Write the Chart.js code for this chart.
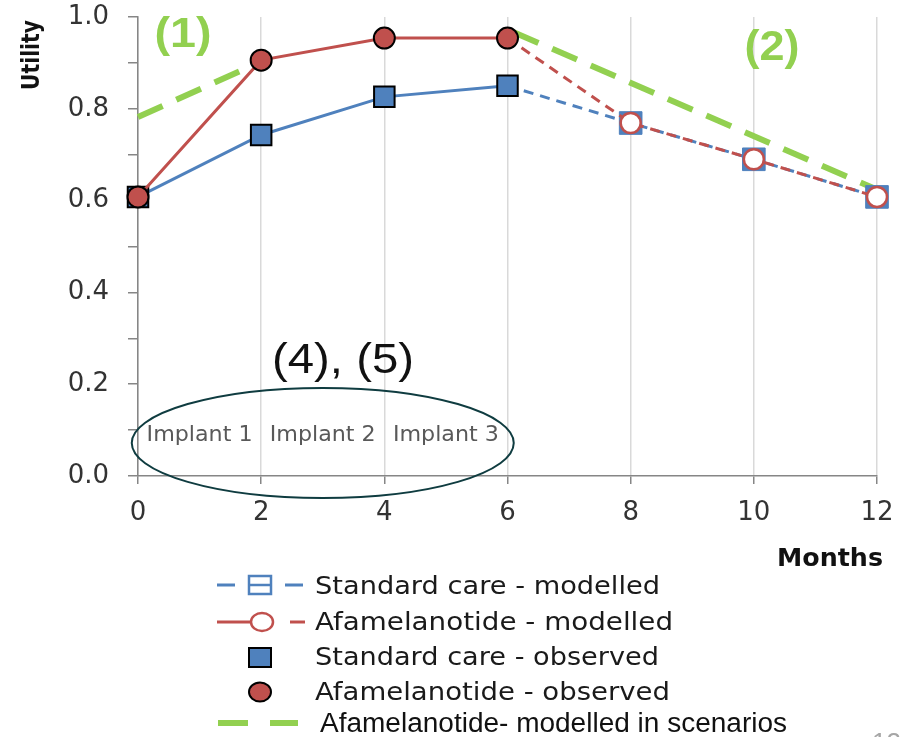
<!DOCTYPE html>
<html>
<head>
<meta charset="utf-8">
<script src="https://cdn.jsdelivr.net/npm/chart.js@4.4.0/dist/chart.umd.min.js"></script>
<style>
  body { margin: 0; background: #fff; }
  #wrap { width: 900px; height: 737px; }
</style>
</head>
<body>
<div id="wrap"><canvas id="utilChart" width="900" height="737"></canvas></div>
<script>
// values
const months = [0, 2, 4, 6];
const careObserved = [0.608, 0.743, 0.826, 0.850];
const afaObserved = [0.608, 0.906, 0.954, 0.954];
const modelMonths = [6, 8, 10, 12];
const careModelled = [0.850, 0.769, 0.690, 0.608];
const afaModelled = [0.954, 0.769, 0.690, 0.608];
const scenarioMonths = [0, 1.95, 4, 6.1, 11.95];
const scenarioValues = [0.782, 0.900, null, 0.967, 0.627];
const implantLabels = ["Implant 1", "Implant 2", "Implant 3"];
const implantMonths = [1, 3, 5];
const legendLabels = [
	"Standard care - modelled",
	"Afamelanotide - modelled",
	"Standard care - observed",
	"Afamelanotide - observed",
	"Afamelanotide- modelled in scenarios"
];

const BLUE = "#4F81BD";
const RED = "#C0504D";
const GREEN = "#92D050";
const AXIS = "#868686";

function pts(xs, ys) {
	return xs.map((x, i) => ({ x: x, y: ys[i] }));
}

// draws text squeezed/stretched to a given width (source picture is stretched sideways)
function fitText(ctx, text, x, y, width, font, color, align) {
	ctx.save();
	ctx.font = font;
	const w = ctx.measureText(text).width;
	const sx = width / w;
	let left = x;
	if (align === "center") left = x - width / 2;
	if (align === "right") left = x - width;
	ctx.translate(left, y);
	ctx.scale(sx, 1);
	ctx.fillStyle = color;
	ctx.textAlign = "left";
	ctx.textBaseline = "alphabetic";
	ctx.fillText(text, 0, 0);
	ctx.restore();
}

function line(ctx, x1, y1, x2, y2, color, width) {
	ctx.beginPath();
	ctx.moveTo(x1, y1);
	ctx.lineTo(x2, y2);
	ctx.strokeStyle = color;
	ctx.lineWidth = width;
	ctx.stroke();
}

const extras = {
	id: "extras",
	afterDraw(chart) {
		const ctx = chart.ctx;
		const xs = chart.scales.x, ys = chart.scales.y;

		// axis titles
		ctx.save();
		ctx.translate(39, 55);
		ctx.rotate(-Math.PI / 2);
		fitText(ctx, "Utility", 0, 0, 70, "bold 25px 'DejaVu Sans'", "#111", "center");
		ctx.restore();
		fitText(ctx, "Months", 883, 566, 106, "bold 25px 'DejaVu Sans'", "#111", "right");

		// annotations
		fitText(ctx, "(1)", 183, 47, 57, "bold 42px 'Liberation Sans'", GREEN, "center");
		fitText(ctx, "(2)", 772, 60, 55, "bold 42px 'Liberation Sans'", GREEN, "center");
		fitText(ctx, "(4), (5)", 343, 373, 142, "42px 'Liberation Sans'", "#111", "center");

		implantLabels.forEach((lab, i) => {
			fitText(ctx, lab, xs.getPixelForValue(implantMonths[i]), ys.getPixelForValue(0.094) + 8,
				106, "22px 'DejaVu Sans'", "#595959", "center");
		});
		ctx.save();
		ctx.beginPath();
		ctx.ellipse(xs.getPixelForValue(3), ys.getPixelForValue(0.072), 191, 55, 0, 0, Math.PI * 2);
		ctx.strokeStyle = "#0f3c40";
		ctx.lineWidth = 2;
		ctx.stroke();
		ctx.restore();

		// legend
		ctx.save();
		const rows = [585, 622, 657, 692, 723];
		// standard care modelled
		line(ctx, 217, rows[0], 235, rows[0], BLUE, 3);
		line(ctx, 285, rows[0], 303, rows[0], BLUE, 3);
		ctx.strokeStyle = BLUE; ctx.lineWidth = 2.5;
		ctx.strokeRect(249, rows[0] - 9, 22, 18);
		line(ctx, 249, rows[0], 271, rows[0], BLUE, 2.5);
		// afamelanotide modelled
		line(ctx, 217, rows[1], 251, rows[1], RED, 3);
		line(ctx, 290, rows[1], 305, rows[1], RED, 3);
		ctx.beginPath();
		ctx.ellipse(262, rows[1], 11, 9, 0, 0, Math.PI * 2);
		ctx.fillStyle = "#fff"; ctx.fill();
		ctx.strokeStyle = RED; ctx.lineWidth = 2.5; ctx.stroke();
		// standard care observed
		ctx.fillStyle = BLUE;
		ctx.fillRect(249, rows[2] - 9, 22, 19);
		ctx.strokeStyle = "#000"; ctx.lineWidth = 2;
		ctx.strokeRect(249, rows[2] - 9, 22, 19);
		// afamelanotide observed
		ctx.beginPath();
		ctx.ellipse(260, rows[3], 11, 9.5, 0, 0, Math.PI * 2);
		ctx.fillStyle = RED; ctx.fill();
		ctx.strokeStyle = "#000"; ctx.lineWidth = 2; ctx.stroke();
		// scenarios
		line(ctx, 218, rows[4], 248, rows[4], GREEN, 6);
		line(ctx, 270, rows[4], 298, rows[4], GREEN, 6);
		ctx.restore();

		const textEnds = [660, 673, 659, 670];
		const baselines = [594, 630, 665, 700];
		for (let i = 0; i < 4; i++) {
			fitText(ctx, legendLabels[i], 315, baselines[i], textEnds[i] - 315, "25px 'DejaVu Sans'", "#1a1a1a", "left");
		}
		fitText(ctx, legendLabels[4], 320, 732, 467, "27px 'Liberation Sans'", "#111", "left");

		// page number, cut off at the bottom edge
		ctx.save();
		ctx.font = "26px 'Liberation Sans'";
		ctx.fillStyle = "#a6a6a6";
		ctx.textBaseline = "top";
		ctx.fillText("12", 872, 731);
		ctx.restore();
	}
};

new Chart(document.getElementById("utilChart").getContext("2d"), {
	type: "line",
	data: {
		datasets: [{
			label: legendLabels[3],
			data: pts(months, afaObserved),
			borderColor: RED,
			borderWidth: 3,
			pointStyle: "circle",
			pointRadius: 10.5,
			pointBackgroundColor: RED,
			pointBorderColor: "#000",
			pointBorderWidth: 2
		}, {
			label: legendLabels[2],
			data: pts(months, careObserved),
			borderColor: BLUE,
			borderWidth: 3,
			pointStyle: "rect",
			pointRadius: 14.5,
			pointBackgroundColor: BLUE,
			pointBorderColor: "#000",
			pointBorderWidth: 2
		}, {
			label: legendLabels[1],
			data: pts(modelMonths, afaModelled),
			borderColor: RED,
			borderWidth: 3,
			borderDash: [10, 7],
			pointStyle: "circle",
			pointRadius: [0, 10, 10, 10],
			pointBackgroundColor: "#fff",
			pointBorderColor: RED,
			pointBorderWidth: 2.5
		}, {
			label: legendLabels[0],
			data: pts(modelMonths, careModelled),
			borderColor: BLUE,
			borderWidth: 3,
			borderDash: [10, 7],
			pointStyle: "rect",
			pointRadius: [0, 16, 16, 16],
			pointBackgroundColor: BLUE,
			pointBorderColor: BLUE,
			pointBorderWidth: 1
		}, {
			label: legendLabels[4],
			data: pts(scenarioMonths, scenarioValues),
			borderColor: GREEN,
			borderWidth: 6,
			borderDash: [27, 15],
			pointRadius: 0,
			spanGaps: false
		}]
	},
	options: {
		responsive: false,
		animation: false,
		clip: false,
		layout: { padding: { top: 17, right: 23, left: 0, bottom: 0 } },
		plugins: { legend: { display: false }, tooltip: { enabled: false } },
		scales: {
			x: {
				type: "linear",
				min: 0,
				max: 12,
				border: { color: AXIS, width: 1.5 },
				grid: { color: "#d9d9d9", lineWidth: 1.5, tickColor: AXIS, tickLength: 8 },
				ticks: {
					stepSize: 2,
					padding: 14,
					color: "#333",
					font: { family: "'DejaVu Sans'", size: 26 }
				},
				afterFit(s) { s.height = 261; s.paddingLeft = 0; s.paddingRight = 0; }
			},
			y: {
				min: 0,
				max: 1,
				border: { color: AXIS, width: 1.5 },
				grid: { drawOnChartArea: false, tickColor: AXIS, tickLength: 10, lineWidth: 1.5 },
				ticks: {
					stepSize: 0.1,
					autoSkip: false,
					padding: 19,
					color: "#333",
					font: { family: "'DejaVu Sans'", size: 26 },
					callback: (v) => Math.round(v * 10) % 2 === 0 ? v.toFixed(1) : ""
				},
				afterFit(s) { s.width = 138; s.paddingTop = 0; s.paddingBottom = 0; }
			}
		}
	},
	plugins: [extras]
});
</script>
</body>
</html>
